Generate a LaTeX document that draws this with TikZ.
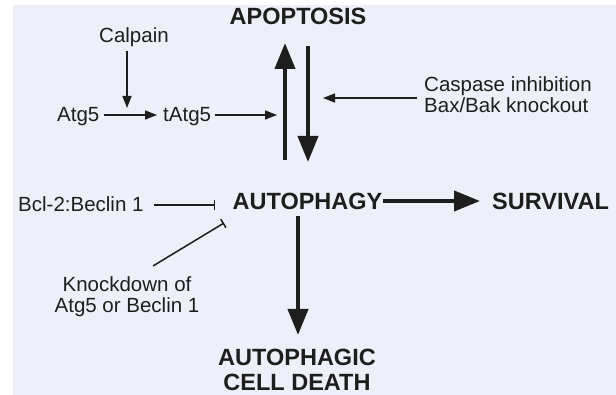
\documentclass[tikz,border=0pt]{standalone}
\usepackage{fontspec}
\setmainfont{Liberation Sans}
\usetikzlibrary{arrows.meta}
\definecolor{bgc}{RGB}{237,240,248}
\definecolor{ink}{RGB}{30,30,30}
\begin{document}
\begin{tikzpicture}[x=1pt,y=-1pt,
  lbl/.style={inner sep=0pt,text=ink,font=\fontsize{20.5}{21}\selectfont},
  big/.style={inner sep=0pt,text=ink,font=\fontsize{23.5}{24.5}\selectfont\bfseries},
  thin/.style={draw=ink,line width=1.5pt,-{Triangle[length=12pt,width=9pt]}},
  heavy/.style={draw=ink,line width=4pt,-{Triangle[length=26pt,width=20pt]}},
  inhib/.style={draw=ink,line width=1.5pt,-{Bar[width=10pt,line width=1.5pt]}}]
\useasboundingbox (0,0) rectangle (616,395);
\fill[bgc] (13,5) rectangle (616,395);
% nodes
\node[big,anchor=base] (apo) at (298,25) {APOPTOSIS};
\node[big,anchor=base] (auto) at (307.5,210) {AUTOPHAGY};
\node[big,anchor=base west] (surv) at (492,210) {SURVIVAL};
\node[big,anchor=base,align=center] (death) at (297,390) {AUTOPHAGIC\\CELL DEATH};
\node[lbl,anchor=base] (calp) at (134,43) {Calpain};
\node[lbl,anchor=base west] (atg) at (57,122) {Atg5};
\node[lbl,anchor=base west] (tatg) at (163,122) {tAtg5};
\node[lbl,anchor=base west,align=left] (casp) at (424,113) {Caspase inhibition\\Bax/Bak knockout};
\node[lbl,anchor=base west] (bcl) at (18,212) {Bcl-2:Beclin 1};
\node[lbl,anchor=base,align=center] (kd) at (127,313) {Knockdown of\\Atg5 or Beclin 1};
% coordinates
\coordinate (upS) at (285,160);
\coordinate (upE) at (285,43);
\coordinate (dnS) at (308,46);
\coordinate (dnE) at (308,162);
\coordinate (calpE) at (127,108);
\coordinate (tatgE) at (277,115);
\coordinate (caspE) at (323,98);
\coordinate (bclE) at (215,205);
\coordinate (kdS) at (153,266);
\coordinate (kdE) at (224,223);
\coordinate (deathE) at (298,335);
% connectors
\draw[heavy] (upS) -- (upE);
\draw[heavy] (dnS) -- (dnE);
\draw[heavy] (auto.south -| deathE) ++(0,6) -- (deathE);
\draw[heavy] (auto.east |- 0,201) -- (surv.west |- 0,201) [shorten >=12pt];
\draw[thin] (calp.south -| calpE) ++(0,4) -- (calpE);
\draw[thin,shorten <=4pt,shorten >=6pt] (atg.east |- 0,115) -- (tatg.west |- 0,115);
\draw[thin,shorten <=4pt] (tatg.east |- 0,115) -- (tatgE);
\draw[thin,shorten <=7pt] (casp.west |- 0,98) -- (caspE);
\draw[inhib,shorten <=10pt] (bcl.east |- 0,205) -- (bclE);
\draw[inhib] (kdS) -- (kdE);
\end{tikzpicture}
\end{document}
